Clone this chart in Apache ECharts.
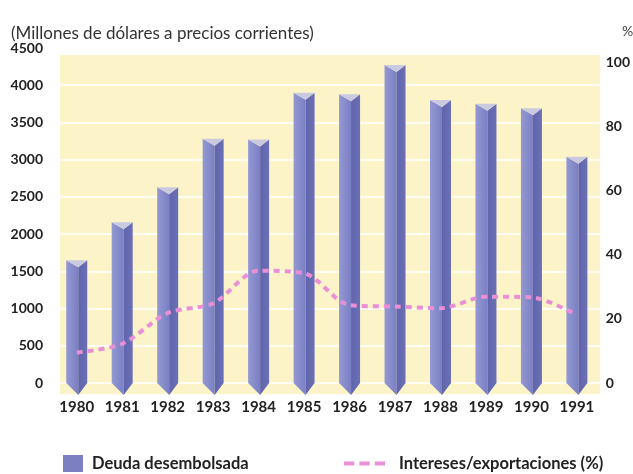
<!DOCTYPE html>
<html>
<head>
<meta charset="utf-8">
<script src="https://cdn.jsdelivr.net/npm/echarts@6/dist/echarts.min.js"></script>
<style>html,body{margin:0;padding:0;background:#fff;}#c{width:633px;height:474px;}</style>
</head>
<body>
<div id="c"></div>
<script>
const years = ['1980','1981','1982','1983','1984','1985','1986','1987','1988','1989','1990','1991'];
const deuda = [1650, 2160, 2630, 3280, 3270, 3900, 3880, 4270, 3800, 3750, 3690, 3040];
const intereses = [9.5, 12.2, 21.8, 24.8, 35.0, 34.2, 24.3, 23.8, 23.3, 26.9, 26.7, 21.2];
const leftTicks = [0, 500, 1000, 1500, 2000, 2500, 3000, 3500, 4000, 4500];
const rightTicks = [0, 20, 40, 60, 80, 100];

const FONT = 'Lato';
const chart = echarts.init(document.getElementById('c'));

function renderPrism(params, api) {
  const i = api.value(0), v = api.value(1);
  const top = api.coord([i, v]);
  const base = api.coord([i, 0]);
  const w = 21;
  const cx = top[0];
  const xl = cx - w / 2, xr = cx + w / 2, xm = cx + 1.5;
  const yt = top[1], yb = base[1];
  return {
    type: 'group',
    children: [
      { type: 'polygon', shape: { points: [[xl, yt], [xm, yt + 7], [xm, yb + 12], [xl, yb]] },
        style: { fill: new echarts.graphic.LinearGradient(0, 0, 1, 0, [
          { offset: 0, color: '#9499d3' }, { offset: 1, color: '#7a7fc3' }]) } },
      { type: 'polygon', shape: { points: [[xm, yt + 7], [xr, yt], [xr, yb], [xm, yb + 12]] },
        style: { fill: new echarts.graphic.LinearGradient(0, 0, 1, 0, [
          { offset: 0, color: '#5f64ac' }, { offset: 1, color: '#6b70b6' }]) } },
      { type: 'polygon', shape: { points: [[xl, yt], [xr, yt], [xm, yt + 7]] },
        style: { fill: '#c9cadf' } }
    ]
  };
}

chart.setOption({
  backgroundColor: '#ffffff',
  animation: false,
  textStyle: { fontFamily: FONT },
  title: [
    { text: '(Millones de dólares a precios corrientes)', left: 6, top: 20,
      textStyle: { fontFamily: FONT, fontSize: 17, fontWeight: 'normal', color: '#333' } },
    { text: '%', left: 617, top: 19,
      textStyle: { fontFamily: FONT, fontSize: 14, fontWeight: 'normal', color: '#444' } }
  ],
  graphic: [
    { type: 'rect', z: -10, shape: { x: 60, y: 55, width: 540, height: 339 },
      style: { fill: '#fcf4c8' } }
  ],
  grid: { left: 54, right: 27, top: 48, bottom: 91 },
  legend: [
    { data: ['Deuda desembolsada'], left: 58, top: 450, icon: 'rect', itemWidth: 20, itemHeight: 17,
      textStyle: { fontFamily: FONT, fontSize: 16.5, fontWeight: 'bold', color: '#222', padding: [0, 0, 0, 4] } },
    { data: ['Intereses/exportaciones (%)'], left: 339, top: 450, itemWidth: 41, itemHeight: 5,
      icon: 'path://M0,0H10V4H0ZM15,0H25V4H15ZM30,0H40V4H30Z',
      itemStyle: { color: '#ea8fd6' },
      textStyle: { fontFamily: FONT, fontSize: 16.5, fontWeight: 'bold', color: '#222', padding: [0, 0, 0, 9] } }
  ],
  xAxis: {
    type: 'category', data: years,
    axisLine: { show: false }, axisTick: { show: false },
    axisLabel: { margin: 17, fontFamily: FONT, fontSize: 15, fontWeight: 'bold', color: '#222' }
  },
  yAxis: [
    { type: 'value', min: 0, max: 4500, interval: 500,
      axisLine: { show: false }, axisTick: { show: false },
      splitLine: { show: true, lineStyle: { color: '#ffffff', width: 2, opacity: 0.8 } },
      axisLabel: { margin: 11, fontFamily: FONT, fontSize: 14, fontWeight: 'bold', color: '#222',
        formatter: v => leftTicks.indexOf(v) >= 0 ? String(v) : '' } },
    { type: 'value', min: 0, max: 100 * 335 / 321, interval: 20,
      axisLine: { show: false }, axisTick: { show: false }, splitLine: { show: false },
      axisLabel: { margin: 6, fontFamily: FONT, fontSize: 14, fontWeight: 'bold', color: '#222',
        showMaxLabel: false,
        formatter: v => rightTicks.indexOf(Math.round(v * 1000) / 1000) >= 0 ? String(v) : '' } }
  ],
  series: [
    { name: 'Deuda desembolsada', type: 'custom', renderItem: renderPrism,
      itemStyle: { color: '#7c80c2' },
      encode: { x: 0, y: 1 },
      data: deuda.map((v, i) => [i, v]), z: 2 },
    { name: 'Intereses/exportaciones (%)', type: 'line', yAxisIndex: 1, smooth: 0.3,
      symbol: 'none', z: 5,
      itemStyle: { color: '#ea8fd6' },
      lineStyle: { color: '#ea8fd6', width: 4, type: [6, 5] },
      data: intereses }
  ]
});
</script>
</body>
</html>
